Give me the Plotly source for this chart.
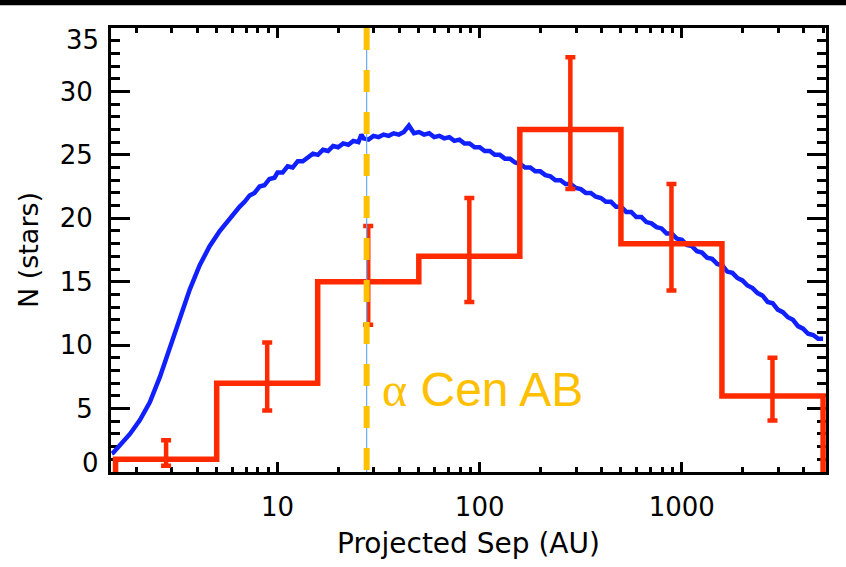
import math
import plotly.graph_objects as go

# Observed binary separations: histogram in half-decade bins
bin_edges = [1.58, 5.0, 15.8, 50.0, 158.0, 500.0, 1580.0, 5000.0]
counts = [1, 7, 15, 17, 27, 18, 6]
bin_centers = [2.81, 8.89, 28.1, 88.9, 281.0, 889.0, 2810.0]
err_low = [0.5, 4.85, 11.6, 13.4, 22.3, 14.3, 4.05]
err_high = [2.5, 10.2, 19.4, 21.6, 32.7, 22.7, 9.0]

# Simulated projected-separation distribution (log10 AU, N)
model_log_sep = [
    0.180, 0.186, 0.220, 0.270, 0.319, 0.368, 0.418, 0.467, 0.516, 0.566,
    0.615, 0.664, 0.714, 0.763, 0.812, 0.837, 0.862, 0.886, 0.911, 0.935,
    0.960, 0.985,
    1.000, 1.025, 1.050, 1.075, 1.100, 1.125, 1.150, 1.175, 1.200, 1.225,
    1.250, 1.275, 1.300, 1.325, 1.350, 1.375, 1.400, 1.415, 1.425, 1.450,
    1.475, 1.500, 1.525, 1.550, 1.575, 1.600, 1.625, 1.650, 1.675, 1.700,
    1.725, 1.750, 1.775, 1.800, 1.825, 1.850, 1.875, 1.900, 1.925, 1.950,
    1.975, 2.000, 2.025, 2.050, 2.075, 2.100, 2.125, 2.150, 2.175, 2.200,
    2.225, 2.250, 2.275, 2.300, 2.325, 2.350, 2.375, 2.400, 2.425, 2.450,
    2.475, 2.500, 2.525, 2.550, 2.575, 2.600, 2.625, 2.650, 2.675, 2.700,
    2.725, 2.750, 2.775, 2.800, 2.825, 2.850, 2.875, 2.900, 2.925, 2.950,
    2.975, 3.000, 3.025, 3.050, 3.075, 3.100, 3.125, 3.150, 3.175, 3.200,
    3.225, 3.250, 3.275, 3.300, 3.325, 3.350, 3.375, 3.400, 3.425, 3.450,
    3.475, 3.500, 3.525, 3.550, 3.575, 3.600, 3.625, 3.650, 3.675, 3.699,
]
model_n = [
    1.45, 1.5, 2.1, 3.0, 4.1, 5.5, 7.5, 9.8, 12.2, 14.4,
    16.3, 17.8, 19.0, 20.0, 20.9, 21.3, 21.8, 22.0, 22.5, 22.6,
    23.1, 23.2,
    23.6, 23.6, 24.1, 24.0, 24.5, 24.5, 24.8, 25.1, 25.0, 25.4,
    25.3, 25.7, 25.6, 25.9, 25.8, 26.1, 26.0, 26.6, 26.3, 26.2,
    26.5, 26.4, 26.6, 26.5, 26.7, 26.6, 26.8, 27.3, 26.7, 26.8,
    26.6, 26.7, 26.4, 26.5, 26.3, 26.4, 26.1, 26.2, 25.9, 25.9,
    25.6, 25.6, 25.3, 25.3, 25.0, 25.0, 24.7, 24.7, 24.4, 24.3,
    24.0, 24.0, 23.7, 23.7, 23.4, 23.3, 23.0, 23.0, 22.7, 22.7,
    22.4, 22.3, 22.0, 22.0, 21.7, 21.6, 21.3, 21.3, 20.9, 20.9,
    20.5, 20.5, 20.1, 20.1, 19.7, 19.6, 19.3, 19.2, 18.8, 18.8,
    18.4, 18.3, 17.9, 17.8, 17.4, 17.3, 16.9, 16.8, 16.4, 16.3,
    15.8, 15.7, 15.3, 15.1, 14.7, 14.5, 14.1, 13.9, 13.4, 13.3,
    12.8, 12.6, 12.2, 12.0, 11.5, 11.3, 10.9, 10.8, 10.5, 10.5,
]

alpha_cen_sep = 27.6

y_tick_vals = [0, 5, 10, 15, 20, 25, 30, 35]
x_tick_vals = [10, 100, 1000]
x_minor_vals = [m * 10 ** d for d in range(0, 4) for m in range(2, 10)]

RED = "#ff2a00"
BLUE = "#1020ff"
GOLD = "#ffc000"
FONT = "DejaVu Sans"

# Step outline of the histogram, closed down to zero at both ends
hist_x = [bin_edges[0]]
hist_y = [0]
for i, c in enumerate(counts):
    hist_x += [bin_edges[i], bin_edges[i + 1]]
    hist_y += [c, c]
hist_x.append(bin_edges[-1])
hist_y.append(0)

fig = go.Figure()

fig.add_trace(go.Scatter(
    x=[10 ** v for v in model_log_sep], y=model_n, mode="lines",
    line=dict(color=BLUE, width=4.5), hoverinfo="skip",
))

fig.add_trace(go.Scatter(
    x=hist_x, y=hist_y, mode="lines",
    line=dict(color=RED, width=5.5), hoverinfo="skip",
))

fig.add_trace(go.Scatter(
    x=bin_centers, y=counts, mode="markers",
    marker=dict(size=1, color=RED),
    error_y=dict(
        type="data", symmetric=False,
        array=[h - c for h, c in zip(err_high, counts)],
        arrayminus=[c - l for c, l in zip(counts, err_low)],
        color=RED, thickness=4.5, width=5,
    ),
    hoverinfo="skip",
))

# alpha Cen AB marker: thin solid line under a thick dashed one
fig.add_trace(go.Scatter(
    x=[alpha_cen_sep, alpha_cen_sep], y=[35, 0], mode="lines",
    line=dict(color="#6aaaf5", width=1.2), hoverinfo="skip",
))
fig.add_trace(go.Scatter(
    x=[alpha_cen_sep, alpha_cen_sep], y=[35, 0], mode="lines",
    line=dict(color=GOLD, width=6, dash="22px,20px"), hoverinfo="skip",
))

fig.add_annotation(
    x=math.log10(32), y=6.5, xref="x", yref="y",
    text='<span style="font-family:Liberation Serif">α</span> Cen AB',
    showarrow=False, xanchor="left", yanchor="middle",
    font=dict(family="Liberation Sans", size=48, color=GOLD),
)

# End labels of the y axis sit slightly inside the frame
for val, yshift in [(0, 9), (35, -12)]:
    fig.add_annotation(
        x=0, y=val, xref="paper", yref="y", xanchor="right", yanchor="middle",
        xshift=-10, yshift=yshift, text=str(val), showarrow=False,
        font=dict(family=FONT, size=26, color="black"),
    )

# Black band across the top of the page
fig.add_shape(
    type="rect", xref="paper", yref="paper",
    x0=-0.3, x1=1.3, y0=1 + 23 / 447, y1=1 + 30 / 447,
    fillcolor="black", line=dict(width=0), layer="above",
)

axis_common = dict(
    showline=True, linecolor="black", linewidth=3,
    ticks="inside", tickcolor="black", tickwidth=3,
    mirror="ticks", showgrid=False, zeroline=False,
    layer="below traces",
    tickfont=dict(family=FONT, size=26, color="black"),
)

fig.update_layout(
    width=846, height=567,
    margin=dict(l=111, r=20, t=28, b=92),
    paper_bgcolor="white", plot_bgcolor="white",
    showlegend=False,
    xaxis=dict(
        type="log",
        range=[math.log10(1.5), math.log10(5170)],
        tickvals=x_tick_vals, ticktext=[str(v) for v in x_tick_vals],
        ticklen=10, ticklabelstandoff=10,
        minor=dict(ticks="inside", tickvals=x_minor_vals, ticklen=5,
                   tickwidth=3, tickcolor="black", showgrid=False),
        title=dict(text="Projected Sep (AU)", standoff=13,
                   font=dict(family=FONT, size=28, color="black")),
        **axis_common,
    ),
    yaxis=dict(
        range=[0, 35],
        tickvals=y_tick_vals,
        ticktext=["" if v in (0, 35) else str(v) for v in y_tick_vals],
        ticklen=19, ticklabelstandoff=10,
        minor=dict(ticks="inside", dtick=1, ticklen=9, tickwidth=3,
                   tickcolor="black", showgrid=False),
        title=dict(text="N (stars)", standoff=14,
                   font=dict(family=FONT, size=27, color="black")),
        **axis_common,
    ),
)

fig.write_html("out.html")
